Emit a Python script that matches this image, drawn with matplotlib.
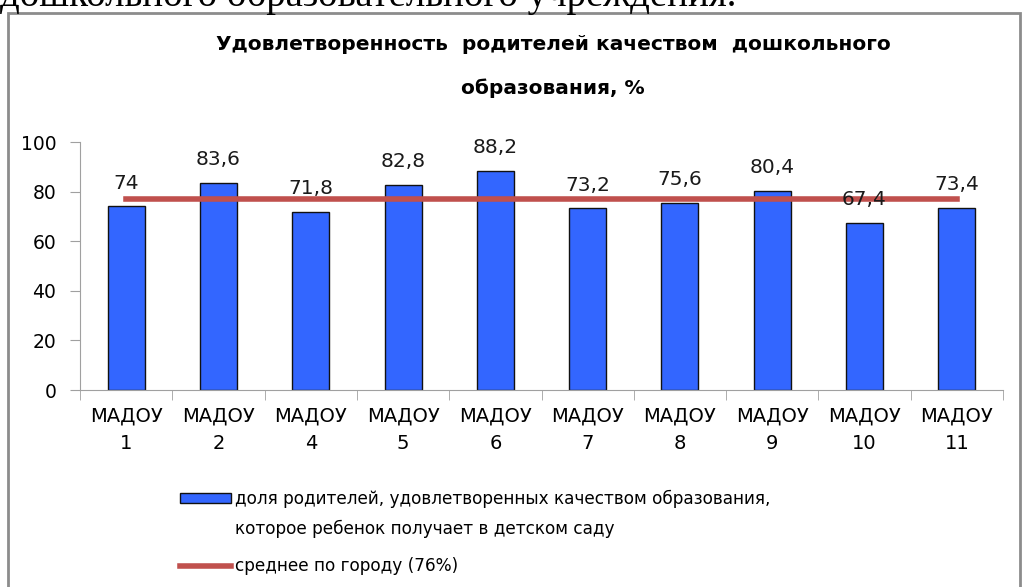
import numpy as np
import matplotlib.pyplot as plt
from matplotlib import font_manager
from matplotlib.patches import Rectangle

# Данные диаграммы
categories = ['МАДОУ\n1', 'МАДОУ\n2', 'МАДОУ\n4', 'МАДОУ\n5', 'МАДОУ\n6',
              'МАДОУ\n7', 'МАДОУ\n8', 'МАДОУ\n9', 'МАДОУ\n10', 'МАДОУ\n11']
values = [74, 83.6, 71.8, 82.8, 88.2, 73.2, 75.6, 80.4, 67.4, 73.4]
city_avg = [77] * len(categories)
value_labels = ['74', '83,6', '71,8', '82,8', '88,2', '73,2', '75,6', '80,4', '67,4', '73,4']
y_ticks = [0, 20, 40, 60, 80, 100]

bar_label = ['доля родителей, удовлетворенных качеством образования,',
             'которое ребенок получает в детском саду']
line_label = 'среднее по городу (76%)'

names = {f.name for f in font_manager.fontManager.ttflist}
narrow = 'DejaVu Sans'
for cand in ['Liberation Sans Narrow', 'DejaVu Sans Condensed']:
    if cand in names:
        narrow = cand
        break

fig = plt.figure(figsize=(10.27, 5.87), dpi=100)
fig.patch.set_facecolor('white')

# рамка и обрезанная строка текста сверху
fig.patches.append(Rectangle((8 / 1027, -0.01), 1012 / 1027, 1 - 13 / 587 + 0.01,
                             transform=fig.transFigure, fill=False,
                             edgecolor='#8c8c8c', lw=2))
fig.text(0.0, 1 - 6 / 587, 'дошкольного образовательного учреждения.',
         family='Liberation Serif', fontsize=28, va='baseline', ha='left')

ax = fig.add_axes([80 / 1027, 1 - 390 / 587, 923 / 1027, 248 / 587])
x = np.arange(len(categories))
bars = ax.bar(x, values, width=0.4, color='#3366FF', edgecolor='#111111',
              lw=1, zorder=2)
ln, = ax.plot(x, city_avg, color='#C0504D', lw=4, zorder=3)

for xi, v, t in zip(x, values, value_labels):
    ax.annotate(t, (xi, v), xytext=(0, 10), textcoords='offset points',
                ha='center', va='bottom', fontsize=14.5, color='#1a1a1a', zorder=4)

ax.set_xlim(-0.5, len(categories) - 0.5)
ax.set_ylim(0, 100)
ax.set_yticks(y_ticks)
ax.tick_params(axis='y', labelsize=13.5, length=7, color='#a0a0a0', pad=10)
ax.set_xticks(x)
ax.set_xticklabels(categories, family=narrow, fontsize=14, linespacing=1.55)
ax.set_xticks(np.arange(len(categories) + 1) - 0.5, minor=True)
ax.tick_params(axis='x', which='major', length=0, pad=12)
ax.tick_params(axis='x', which='minor', length=7, color='#a0a0a0')
for s in ['top', 'right']:
    ax.spines[s].set_visible(False)
ax.spines['left'].set_color('#a0a0a0')
ax.spines['bottom'].set_color('#a0a0a0')

fig.text(553 / 1027, 1 - 45 / 587, 'Удовлетворенность  родителей качеством  дошкольного',
         family=narrow, weight='bold', fontsize=14.5, ha='center', va='center')
fig.text(553 / 1027, 1 - 88 / 587, 'образования, %',
         family=narrow, weight='bold', fontsize=14.5, ha='center', va='center')

# легенда: столбцы (две строки подписи) и линия отдельно
blank = Rectangle((0, 0), 1, 1, fill=False, edgecolor='none')
leg_kw = dict(loc='upper left', frameon=False, fontsize=12.2, handlelength=3.0,
              handleheight=0.55, handletextpad=0.2, borderpad=0)
leg1 = fig.legend([bars, blank], bar_label, bbox_to_anchor=(172 / 1027, 1 - 481 / 587),
                  labelspacing=0.72, **leg_kw)
leg2 = fig.legend([ln], [line_label], bbox_to_anchor=(172 / 1027, 1 - 549 / 587), **leg_kw)

fig.savefig('out.png', dpi=100)
